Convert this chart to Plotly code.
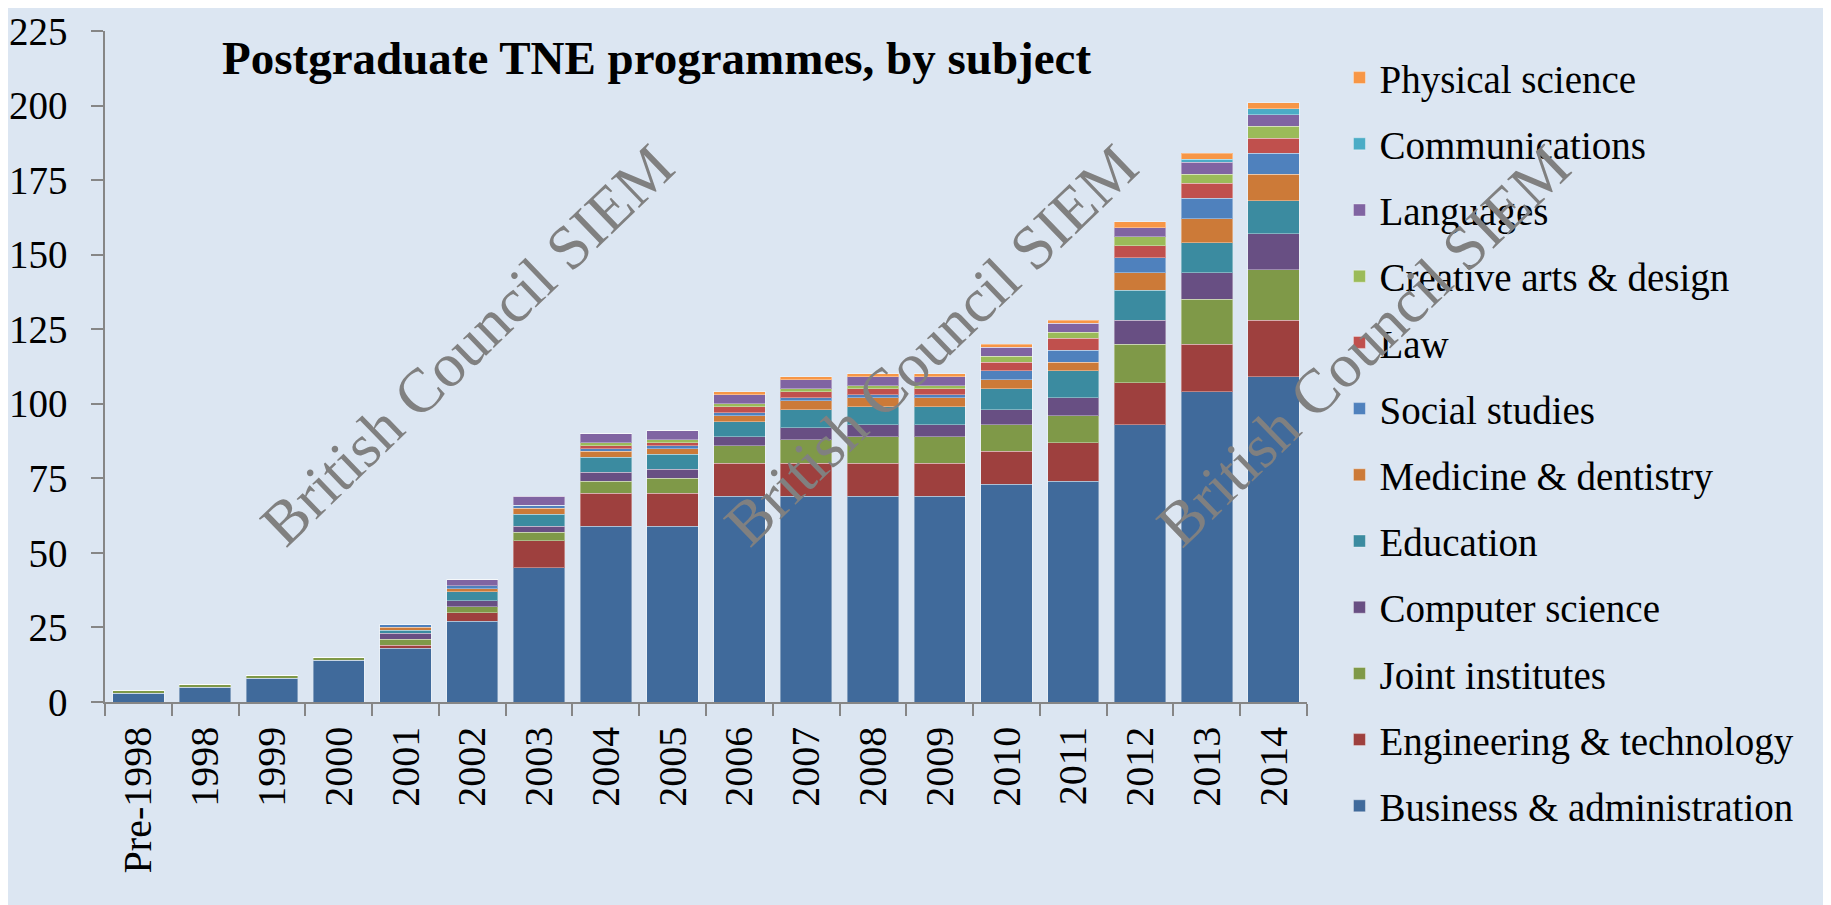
import plotly.graph_objects as go

years = ["Pre-1998", "1998", "1999", "2000", "2001", "2002", "2003", "2004", "2005",
         "2006", "2007", "2008", "2009", "2010", "2011", "2012", "2013", "2014"]

business    = [3, 5, 8, 14, 18, 27, 45, 59, 59, 69, 69, 69, 69, 73, 74, 93, 104, 109]
engineering = [0, 0, 0, 0, 1, 3, 9, 11, 11, 11, 11, 11, 11, 11, 13, 14, 16, 19]
joint       = [1, 1, 1, 1, 2, 2, 3, 4, 5, 6, 8, 9, 9, 9, 9, 13, 15, 17]
computer    = [0, 0, 0, 0, 2, 2, 2, 3, 3, 3, 4, 4, 4, 5, 6, 8, 9, 12]
education   = [0, 0, 0, 0, 1, 3, 4, 5, 5, 5, 6, 6, 6, 7, 9, 10, 10, 11]
medicine    = [0, 0, 0, 0, 1, 1, 2, 2, 2, 2, 3, 3, 3, 3, 3, 6, 8, 9]
social      = [0, 0, 0, 0, 1, 1, 1, 1, 1, 1, 1, 1, 1, 3, 4, 5, 7, 7]
law         = [0, 0, 0, 0, 0, 0, 0, 1, 1, 2, 2, 2, 2, 3, 4, 4, 5, 5]
creative    = [0, 0, 0, 0, 0, 0, 0, 1, 1, 1, 1, 1, 1, 2, 2, 3, 3, 4]
languages   = [0, 0, 0, 0, 0, 2, 3, 3, 3, 3, 3, 3, 3, 3, 3, 3, 4, 4]
comms       = [0, 0, 0, 0, 0, 0, 0, 0, 0, 0, 0, 0, 0, 0, 0, 0, 1, 2]
physical    = [0, 0, 0, 0, 0, 0, 0, 0, 0, 1, 1, 1, 1, 1, 1, 2, 2, 2]

series_names = ["Business & administration", "Engineering & technology", "Joint institutes",
                "Computer science", "Education", "Medicine & dentistry", "Social studies",
                "Law", "Creative arts & design", "Languages", "Communications",
                "Physical science"]
series_values = [business, engineering, joint, computer, education, medicine, social,
                 law, creative, languages, comms, physical]
series_colors = ["#406A9B", "#9E403E", "#7F9948", "#684F83", "#3B8BA0", "#CC7A38",
                 "#4F81BD", "#C0504D", "#9BBB59", "#8064A2", "#4BACC6", "#F79646"]

y_ticks = [0, 25, 50, 75, 100, 125, 150, 175, 200, 225]
title_text = "Postgraduate TNE programmes, by subject"
watermark = "British Council SIEM"

FONT = "Liberation Serif"
BG = "#DCE6F2"
W, H = 1823, 897

fig = go.Figure()
n = len(series_names)
for i, (name, vals, col) in enumerate(zip(series_names, series_values, series_colors)):
    fig.add_trace(go.Bar(
        x=years, y=vals, name=name, legendgroup=name, legendrank=100 + (n - i),
        marker=dict(color=col, line=dict(color="rgba(255,255,255,0.35)", width=1)),
    ))

for wx, wy in [(0.301, 0.532), (0.687, 0.532), (1.047, 0.532)]:
    fig.add_annotation(
        x=wx, y=wy, xref="paper", yref="paper", text=watermark, showarrow=False,
        textangle=-44, font=dict(family=FONT, size=62, color="#808080"),
        xanchor="center", yanchor="middle",
    )

fig.update_layout(
    width=W, height=H,
    barmode="stack", bargap=0.23,
    paper_bgcolor=BG, plot_bgcolor=BG,
    margin=dict(l=97, r=524, t=23, b=203, autoexpand=False),
    font=dict(family=FONT, size=39, color="black"),
    title=dict(text="<b>" + title_text + "</b>", x=214 / W, xanchor="left",
               y=1 - 50 / H, yanchor="middle", xref="container", yref="container",
               pad=dict(l=0, r=0, t=0, b=0),
               font=dict(family=FONT, size=47, color="black")),
    legend=dict(x=1.027, xanchor="left", y=0.978, yanchor="top",
                traceorder="grouped", tracegroupgap=12.5, maxheight=900,
                bgcolor="rgba(0,0,0,0)", font=dict(family=FONT, size=39, color="black")),
    showlegend=True,
)
fig.update_xaxes(
    type="category", tickangle=-90, showline=True, linecolor="#868686", linewidth=1.5,
    ticks="outside", ticklen=12, tickcolor="#868686", tickwidth=1.5,
    tickson="boundaries", showgrid=False, zeroline=False, automargin=False,
    ticklabelstandoff=7, ticklabeloverflow="allow",
    tickfont=dict(family=FONT, size=40, color="black"),
)
fig.update_yaxes(
    range=[0, 225], tickvals=y_ticks, showline=True, linecolor="#868686", linewidth=1.5,
    ticks="outside", ticklen=12, tickcolor="#868686", tickwidth=1.5,
    showgrid=False, zeroline=False, ticklabelstandoff=16, automargin=False,
    ticklabeloverflow="allow",
    tickfont=dict(family=FONT, size=39, color="black"),
)

fig.write_html("out.html")
